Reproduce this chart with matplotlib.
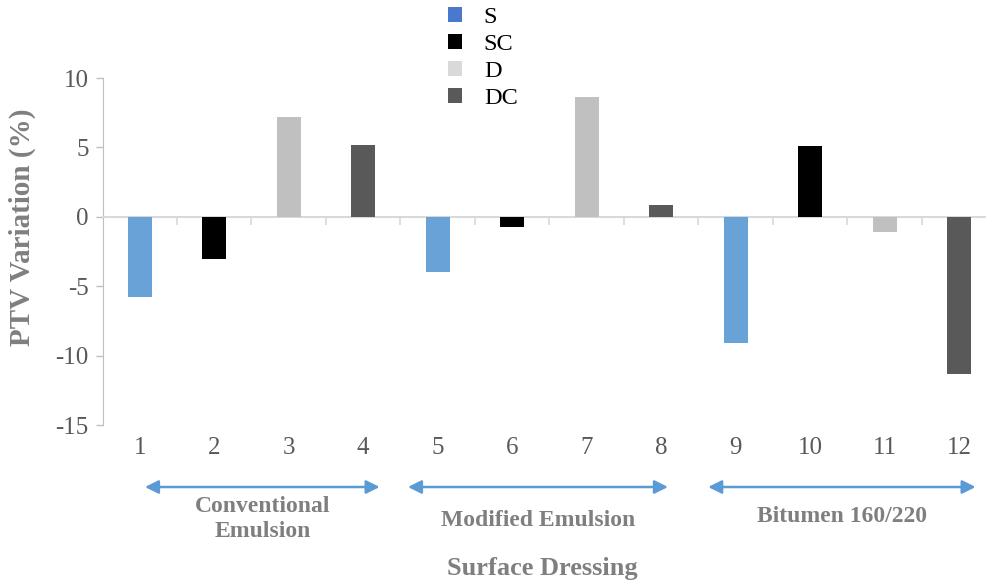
import matplotlib.pyplot as plt
from matplotlib.patches import Patch
from matplotlib.transforms import blended_transform_factory

# data
categorias = list(range(1, 13))
series = ["S", "SC", "D", "DC"]
serie_por_barra = ["S", "SC", "D", "DC", "S", "SC", "D", "DC", "S", "SC", "D", "DC"]
valores = [-5.8, -3.05, 7.2, 5.2, -3.95, -0.7, 8.6, 0.85, -9.1, 5.1, -1.08, -11.3]
grupos = ["Conventional\nEmulsion", "Modified Emulsion", "Bitumen 160/220"]
grupo_inicio = [1.07, 4.6, 8.63]
grupo_fim = [4.22, 8.09, 12.22]

cores_barra = {"S": "#68a2d7", "SC": "#000000", "D": "#c0c0c0", "DC": "#595959"}
cores_legenda = {"S": "#4a78cc", "SC": "#000000", "D": "#d9d9d9", "DC": "#595959"}
CINZA = "#595959"
CINZA_TITULO = "#7f7f7f"
AZUL_SETA = "#5b9bd5"

plt.rcParams["font.family"] = ["Liberation Serif", "DejaVu Serif"]
plt.rcParams["axes.unicode_minus"] = False

W, H = 987, 583
fig = plt.figure(figsize=(W / 100, H / 100), dpi=100)
ax_left = 102.5 / W
ax_w = 12 * 74.5 / W
ax_bottom = 1 - 425 / H
ax_h = 347 / H
ax = fig.add_axes([ax_left, ax_bottom, ax_w, ax_h])

ax.bar(categorias, valores, width=0.32,
       color=[cores_barra[s] for s in serie_por_barra], zorder=3)

ax.set_xlim(0.5, 12.5)
ax.set_ylim(-15, 10)
ax.set_yticks([-15, -10, -5, 0, 5, 10])
ax.tick_params(axis="y", colors="#bfbfbf", labelcolor=CINZA, labelsize=18,
               length=5, width=1, pad=5)

for lado in ["top", "right"]:
    ax.spines[lado].set_visible(False)
ax.spines["left"].set_color("#bfbfbf")
ax.spines["bottom"].set_position(("data", 0))
ax.spines["bottom"].set_color("#d9d9d9")
ax.spines["bottom"].set_linewidth(1.5)
ax.set_xticks([])
ax.set_xticks([c + 0.5 for c in categorias[:-1]], minor=True)
ax.tick_params(axis="x", which="minor", colors="#d9d9d9", length=6, width=1.2,
               labelbottom=False)

sec = ax.secondary_xaxis(0.0)
sec.set_xticks(categorias)
sec.set_xticklabels([str(c) for c in categorias])
sec.spines["bottom"].set_visible(False)
sec.tick_params(axis="x", length=0, labelsize=18, labelcolor=CINZA, pad=9)

ax.set_ylabel("PTV Variation (%)", fontsize=21, fontweight="bold", color=CINZA_TITULO)
ax.yaxis.set_label_coords(-0.074, 0.57)

# setas dos grupos
trans = blended_transform_factory(ax.transData, fig.transFigure)
y_seta = 1 - 487 / H
for nome, x0, x1 in zip(grupos, grupo_inicio, grupo_fim):
    ax.annotate("", xy=(x1, y_seta), xytext=(x0, y_seta), xycoords=trans, textcoords=trans,
                arrowprops=dict(arrowstyle="<|-|>", color=AZUL_SETA, lw=1.8,
                                mutation_scale=20, shrinkA=0, shrinkB=0),
                annotation_clip=False)
    xm = (x0 + x1) / 2
    if "\n" in nome:
        y_txt = 1 - 519 / H
    else:
        y_txt = 1 - 520 / H if nome.startswith("Modified") else 1 - 517 / H
    ax.text(xm, y_txt, nome, transform=trans, ha="center", va="center",
            fontsize=17, fontweight="bold", color=CINZA_TITULO, linespacing=1.25)

fig.text(542 / W, 1 - 569 / H, "Surface Dressing", ha="center", va="center",
         fontsize=19, fontweight="bold", color=CINZA_TITULO)

handles = [Patch(facecolor=cores_legenda[s], edgecolor="none") for s in series]
fig.legend(handles, series, loc="upper left", bbox_to_anchor=(426 / W, 1.025),
           frameon=False, fontsize=17.5, handlelength=0.58, handleheight=0.58,
           labelspacing=0.24, handletextpad=0.9)

fig.savefig("out.png", dpi=100)
